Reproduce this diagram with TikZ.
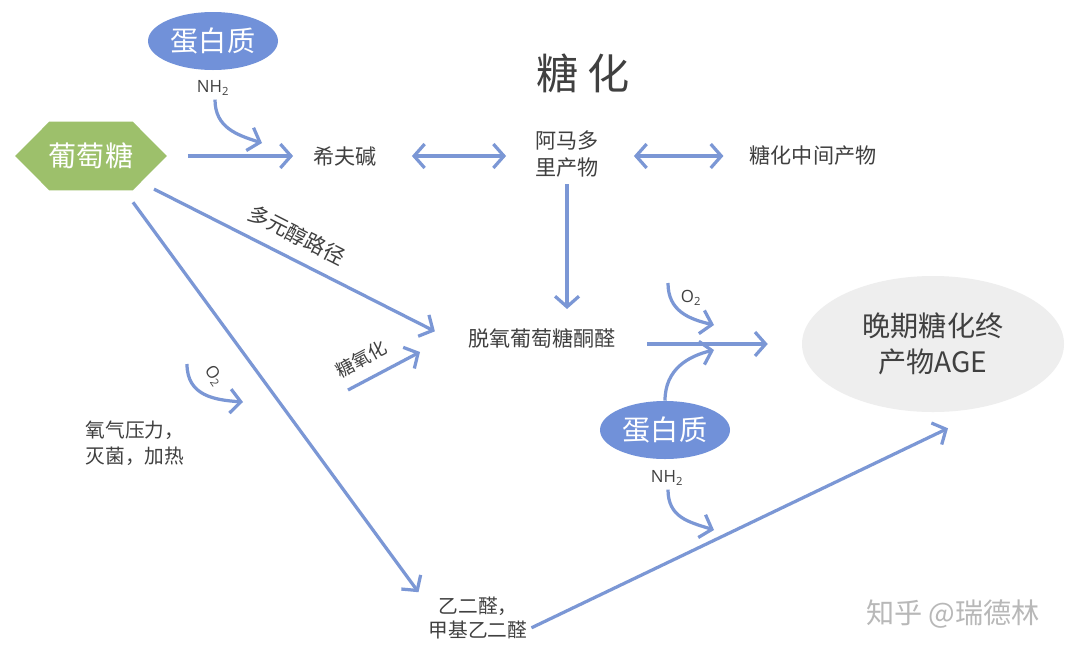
\documentclass[tikz,border=0pt]{standalone}
\usepackage{fontspec}
\newfontfamily\cjk{Noto Sans CJK SC}
\newfontfamily\lat{Open Sans}
\usetikzlibrary{arrows.meta,calc,shapes.geometric,backgrounds}
\definecolor{arrowblue}{HTML}{7B97D5}
\definecolor{protblue}{HTML}{7191D9}
\definecolor{glcgreen}{HTML}{9DC06B}
\definecolor{agegray}{HTML}{EEEEEE}
\definecolor{txt}{HTML}{404040}
\newdimen\px \px=0.025cm
\begin{document}
\begin{tikzpicture}[x=0.025cm,y=-0.025cm,
  >={Straight Barb[length=7.5pt,width=17pt]},
  arr/.style={draw=arrowblue,line width=2.3pt},
  lbl/.style={inner sep=0pt,text=txt,font=\cjk\fontsize{15}{20}\selectfont,align=center},
  sublbl/.style={inner sep=0pt,text=txt,font=\lat\fontsize{12}{14}\selectfont},
  prot/.style={ellipse,fill=protblue,text=white,minimum width=130\px,minimum height=58\px,inner sep=0pt,font=\cjk\fontsize{20}{24}\selectfont},
]
\useasboundingbox (0,0) rectangle (1080,659);

% title
\node[lbl,font=\cjk\fontsize{30}{34}\selectfont] (title) at (583,73) {糖\hspace{0.2em}化};

% nodes
\node[prot] (prot1) at (213,41) {蛋白质};
\node[sublbl] (nh1) at (213,88) {NH\textsubscript{2}};
\node[inner sep=0pt,minimum width=151\px,minimum height=68\px,text=white,font=\cjk\fontsize{20}{24}\selectfont] (glc) at (91,156) {葡萄糖};
\begin{scope}[on background layer]
\fill[white] (0,0) rectangle (1080,659);
\fill[glcgreen] (glc.west) -- ($(glc.north west)+(34,0)$) -- ($(glc.north east)+(-34,0)$) -- (glc.east) -- ($(glc.south east)+(-34,0)$) -- ($(glc.south west)+(34,0)$) -- cycle;
\end{scope}
\node[lbl] (schiff) at (345,156) {希夫碱};
\node[lbl,font=\cjk\fontsize{15}{19.8}\selectfont] (amadori) at (567,154) {阿马多\\里产物};
\node[lbl] (inter) at (813,156) {糖化中间产物};
\node[lbl] (deoxy) at (542,338) {脱氧葡萄糖酮醛};
\node[ellipse,fill=agegray,minimum width=262\px,minimum height=136\px,inner sep=0pt,text=txt,align=center,font=\cjk\fontsize{20}{26}\selectfont] (age) at (933,344) {晚期糖化终\\产物AGE};
\node[lbl,font=\cjk\fontsize{14}{18.4}\selectfont] (oxy) at (135,443) {氧气压力，\\灭菌，加热};
\node[lbl,font=\cjk\fontsize{14}{17.7}\selectfont] (gly) at (478,618) {乙二醛，\\甲基乙二醛};
\node[prot] (prot2) at (665,430) {蛋白质};
\node[sublbl] (nh2) at (667,478) {NH\textsubscript{2}};
\node[sublbl] (o2a) at (691,298) {O\textsubscript{2}};
\node[sublbl,rotate=-55] (o2b) at (214,376) {O\textsubscript{2}};
\node[lbl,rotate=-27] (polyol) at (297,235) {多元醇路径};
\node[lbl,font=\cjk\fontsize{13}{16}\selectfont,rotate=28] (glyox) at (361,359) {糖氧化};
\node[inner sep=0pt,text=black!28,font=\cjk\fontsize{20}{24}\selectfont] (wm) at (953,614) {知乎 @瑞德林};

% free ends
\coordinate (n1e) at (262,143);
\coordinate (n2e) at (714,530);
\coordinate (o2as) at (668,283);
\coordinate (o2ae) at (714,325);
\coordinate (pe) at (714,350);
\coordinate (o2bs) at (187,364);
\coordinate (o2be) at (243,402);
\coordinate (gx1) at (348,390);
\coordinate (gx2) at (420,352);

% connectors
\draw[arr,->,shorten <=21\px,shorten >=20\px] (glc.east) -- (schiff.west);
\draw[arr,<->,shorten <=35\px,shorten >=29\px] (schiff.east) -- (amadori.west |- schiff.east);
\draw[arr,<->,shorten <=35\px,shorten >=26\px] (amadori.east |- inter.west) -- (inter.west);
\draw[arr,->,shorten <=6\px,shorten >=19\px] (amadori.south) -- (amadori.south |- deoxy.north);
\draw[arr,->,shorten <=4\px,shorten >=37\px] ($(glc.-28)+(-5,-3)$) -- (deoxy.south west);
\draw[arr,->] ($(glc.south)+(42,12)$) -- ($(gly.north west)+(-10,-4)$);
\draw[arr,->] ($(gly.south east)+(4,-12)$) -- ($(age.south)+(15,16)$);
\draw[arr,->,shorten <=31\px,shorten >=34\px] (deoxy.east |- age.west) -- (age.west);
\draw[arr,->] (gx1) -- (gx2);
\draw[arr,->] ($(nh1.south)+(2,4)$) .. controls +(0,28) and +(-25,-8) .. (n1e);
\draw[arr,->] ($(nh2.south)+(1,4)$) .. controls +(0,28) and +(-25,-8) .. (n2e);
\draw[arr,->] (o2as) .. controls +(0,28) and +(-25,-6) .. (o2ae);
\draw[arr,->] (prot2.north) .. controls +(0,-32) and +(-25,6) .. (pe);
\draw[arr,->] (o2bs) .. controls +(0,32) and +(-28,-2) .. (o2be);
\end{tikzpicture}
\end{document}
